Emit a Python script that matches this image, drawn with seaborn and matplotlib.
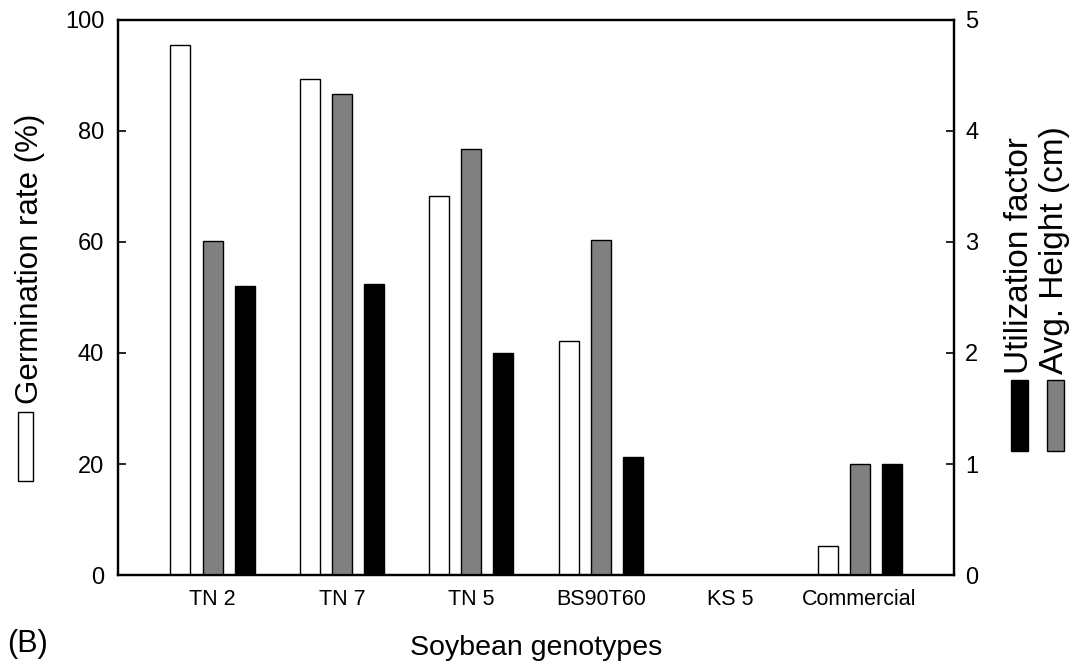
import matplotlib
matplotlib.use("Agg")
import matplotlib.pyplot as plt
from matplotlib.patches import Rectangle
import seaborn as sns
import pandas as pd

# Soybean genotypes and measured traits
genotypes = ["TN 2", "TN 7", "TN 5", "BS90T60", "KS 5", "Commercial"]
germination_rate = [95.5, 89.3, 68.2, 42.2, 0.0, 5.2]      # %
avg_height = [3.01, 4.33, 3.84, 3.02, 0.0, 1.0]           # cm
utilization_factor = [2.60, 2.62, 2.00, 1.06, 0.0, 1.0]

series_order = ["Germination rate (%)", "Avg. Height (cm)", "Utilization factor"]
series_colors = {"Germination rate (%)": "white",
                 "Avg. Height (cm)": "#808080",
                 "Utilization factor": "black"}

left_df = pd.DataFrame({"genotype": genotypes, "value": germination_rate,
                        "series": series_order[0]})
right_df = pd.concat([
    pd.DataFrame({"genotype": genotypes, "value": avg_height, "series": series_order[1]}),
    pd.DataFrame({"genotype": genotypes, "value": utilization_factor, "series": series_order[2]}),
], ignore_index=True)

sns.set_theme(style="white")
plt.rcParams["font.family"] = ["Liberation Sans", "DejaVu Sans"]

fig = plt.figure(figsize=(10.74, 6.64), dpi=100)
ax = fig.add_axes([0.1099, 0.134, 0.7784, 0.836])
ax2 = ax.twinx()

bar_kw = dict(x="genotype", y="value", hue="series", hue_order=series_order,
              order=genotypes, palette=series_colors, dodge=True,
              width=0.742, gap=0.375, edgecolor="black", linewidth=1.0,
              legend=False, errorbar=None)
sns.barplot(data=left_df, ax=ax, **bar_kw)
sns.barplot(data=right_df, ax=ax2, **bar_kw)

ax.set_xlim(-0.73, 5.73)
ax.set_ylim(0, 100)
ax2.set_ylim(0, 5)
ax.set_yticks([0, 20, 40, 60, 80, 100])
ax2.set_yticks([0, 1, 2, 3, 4, 5])

for a in (ax, ax2):
    a.set_ylabel("")
    a.set_xlabel("")
    for s in a.spines.values():
        s.set_color("black")
        s.set_linewidth(1.6)
        s.set_visible(True)

ax.tick_params(axis="y", direction="in", length=6, width=1.2, labelsize=17,
               colors="black", pad=10)
ax2.tick_params(axis="y", direction="in", length=6, width=1.2, labelsize=17,
                colors="black", pad=8)
ax.tick_params(axis="x", length=0, labelsize=15.5, pad=10, colors="black")
ax2.tick_params(axis="x", length=0)
ax.set_xlabel("Soybean genotypes", fontsize=20.5, labelpad=18, color="black")

# Series keys beside the axes
fig.text(0.028, 0.392, "Germination rate (%)", rotation=90, fontsize=22.5,
         ha="center", va="bottom", color="black")
fig.patches.append(Rectangle((0.0168, 0.2756), 0.014, 0.104, transform=fig.transFigure,
                             facecolor="white", edgecolor="black", linewidth=1.0))

fig.text(0.9488, 0.437, "Utilization factor", rotation=90, fontsize=24,
         ha="center", va="bottom", color="black")
fig.text(0.9823, 0.437, "Avg. Height (cm)", rotation=90, fontsize=24,
         ha="center", va="bottom", color="black")
fig.patches.append(Rectangle((0.9413, 0.3208), 0.0158, 0.107, transform=fig.transFigure,
                             facecolor="black", edgecolor="black", linewidth=1.0))
fig.patches.append(Rectangle((0.9749, 0.3208), 0.0158, 0.107, transform=fig.transFigure,
                             facecolor="#808080", edgecolor="black", linewidth=1.0))

fig.text(0.007, 0.030, "(B)", fontsize=22, ha="left", va="center", color="black")

fig.savefig("out.png", dpi=100)
